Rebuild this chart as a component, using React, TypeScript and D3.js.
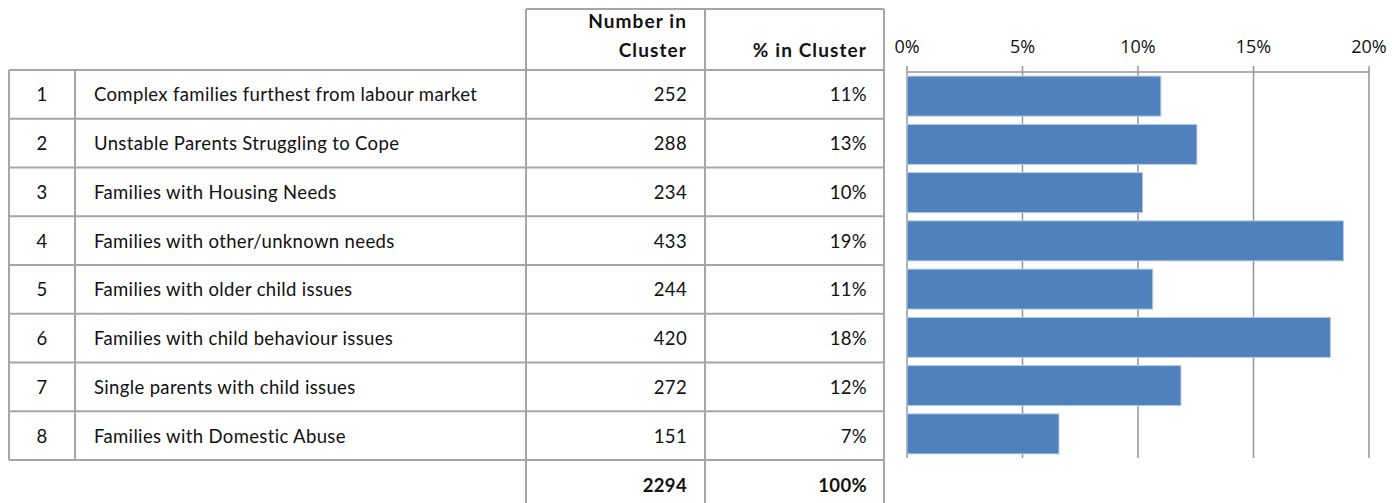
import React from "react";
import * as d3 from "d3";

const ids = ["1", "2", "3", "4", "5", "6", "7", "8"];
const names = [
  "Complex families furthest from labour market",
  "Unstable Parents Struggling to Cope",
  "Families with Housing Needs",
  "Families with other/unknown needs",
  "Families with older child issues",
  "Families with child behaviour issues",
  "Single parents with child issues",
  "Families with Domestic Abuse",
];
const counts = [252, 288, 234, 433, 244, 420, 272, 151];
const pctLabels = ["11%", "13%", "10%", "19%", "11%", "18%", "12%", "7%"];
const shares = [10.99, 12.55, 10.2, 18.9, 10.64, 18.33, 11.86, 6.58];
const totalCount = "2294";
const totalPct = "100%";
const ticks = [0, 5, 10, 15, 20];

const W = 1392;
const H = 503;
const border = "#a6a6a6";
const grid = "#969696";
const tableFont = "Lato, 'Open Sans', sans-serif";
const axisFont = "'Open Sans', sans-serif";

export default function App() {
  const colX = [9, 75, 526, 705, 884];
  const rowTop = 70;
  const rowBottom = 460;
  const rowY = d3.scaleBand<string>().domain(ids).range([rowTop, rowBottom]);

  const x = d3.scaleLinear().domain([0, 20]).range([907, 1369]);
  const y = d3.scaleBand<string>().domain(ids).range([72, 458]).paddingInner(0.17).paddingOuter(0.085);

  const rowLines = d3.range(ids.length + 1).map((i) => rowTop + i * rowY.step());

  return (
    <svg width={W} height={H} style={{ position: "absolute", left: 0, top: 0, background: "#fff" }}>
      {/* table borders */}
      <g stroke={border} strokeWidth={2} fill="none">
        <line x1={colX[2]} x2={colX[4]} y1={9} y2={9} />
        <line x1={colX[2]} x2={colX[2]} y1={9} y2={rowTop} />
        <line x1={colX[3]} x2={colX[3]} y1={9} y2={rowTop} />
        <line x1={colX[4]} x2={colX[4]} y1={9} y2={rowTop} />
        {rowLines.map((ly, i) => (
          <line key={"h" + i} x1={colX[0]} x2={colX[4]} y1={ly} y2={ly} />
        ))}
        {colX.map((cx, i) => (
          <line key={"v" + i} x1={cx} x2={cx} y1={rowTop} y2={rowBottom} />
        ))}
        {[colX[2], colX[3], colX[4]].map((cx, i) => (
          <line key={"f" + i} x1={cx} x2={cx} y1={rowBottom} y2={H} />
        ))}
      </g>
      {/* header text */}
      <g fontFamily={tableFont} fontWeight={700} fontSize={19} letterSpacing={1.1} fill="#111" textAnchor="end">
        <text x={687} y={28}>Number in</text>
        <text x={687} y={57}>Cluster</text>
        <text x={867} y={57}>% in Cluster</text>
      </g>
      {/* rows */}
      <g fontFamily={tableFont} fontSize={18.5} letterSpacing={0.35} fill="#111">
        {ids.map((id, i) => {
          const cy = (rowY(id) as number) + rowY.bandwidth() / 2 + 7;
          return (
            <g key={id}>
              <text x={42} y={cy} textAnchor="middle">{id}</text>
              <text x={94} y={cy}>{names[i]}</text>
              <text x={687} y={cy} textAnchor="end">{counts[i]}</text>
              <text x={867} y={cy} textAnchor="end">{pctLabels[i]}</text>
            </g>
          );
        })}
        <text x={687} y={492} textAnchor="end" fontWeight={700}>{totalCount}</text>
        <text x={867} y={492} textAnchor="end" fontWeight={700}>{totalPct}</text>
      </g>
      {/* chart gridlines */}
      <g stroke={grid} strokeWidth={1.5}>
        {ticks.map((t) => (
          <line key={t} x1={x(t)} x2={x(t)} y1={66} y2={458} />
        ))}
        <line x1={x(0)} x2={x(20)} y1={72} y2={72} />
      </g>
      {/* bars */}
      <g>
        {ids.map((id, i) => (
          <rect
            key={id}
            x={x(0)}
            y={y(id)}
            width={x(shares[i]) - x(0)}
            height={y.bandwidth()}
            fill="#4f81bd"
            stroke="#b9cde5"
            strokeWidth={1}
          />
        ))}
      </g>
      {/* axis labels */}
      <g fontFamily={axisFont} fontSize={18} fill="#111" textAnchor="middle">
        {ticks.map((t) => (
          <text key={t} x={x(t)} y={53}>{t + "%"}</text>
        ))}
      </g>
    </svg>
  );
}
